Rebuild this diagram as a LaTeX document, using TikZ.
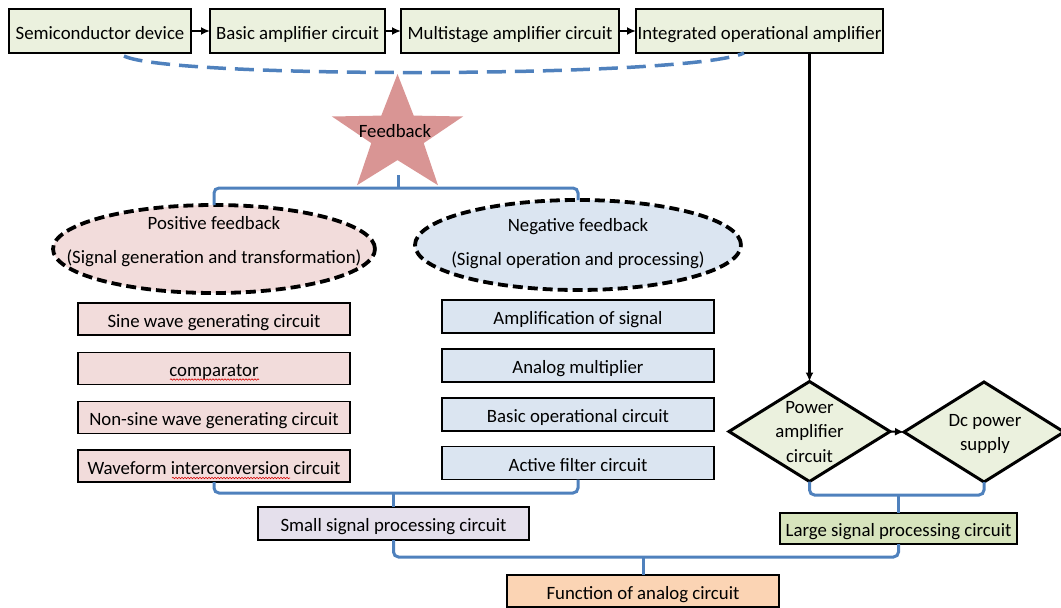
\documentclass[tikz,border=0pt]{standalone}
\usepackage{fontspec}
\setmainfont{Carlito}
\usetikzlibrary{shapes.geometric,arrows.meta,decorations.pathmorphing}
\definecolor{topfill}{HTML}{EBF1DE}
\definecolor{pinkfill}{HTML}{F2DCDB}
\definecolor{bluefill}{HTML}{DBE5F1}
\definecolor{lavfill}{HTML}{E5E0EC}
\definecolor{largefill}{HTML}{D7E4BD}
\definecolor{peachfill}{HTML}{FBD4B4}
\definecolor{starfill}{HTML}{D99594}
\definecolor{lineblue}{HTML}{4F81BD}
\begin{document}
\begin{tikzpicture}[x=1pt,y=-1pt,
  every node/.style={font=\fontsize{18.8}{22}\selectfont, inner sep=0pt, outer sep=0pt},
  box/.style={draw=black, line width=1.6pt, minimum height=#1, text height=17.6pt, text depth=1pt},
  topbox/.style={box=44, fill=topfill},
  pbox/.style={box=32, fill=pinkfill, minimum width=272},
  nbox/.style={box=33, fill=bluefill, minimum width=272},
  oval/.style={draw=black, line width=3.8pt, dash pattern=on 10pt off 5pt, ellipse},
  dia/.style={draw=black, line width=3pt, diamond, fill=topfill, minimum width=161, minimum height=100},
  br/.style={draw=lineblue, line width=3pt, rounded corners=5pt},
  arr/.style={draw=black, line width=2.5pt, -{Latex[length=9pt,width=8pt]}},
  squig/.style={draw=red!85!black, line width=0.6pt, decorate, decoration={snake, amplitude=0.7pt, segment length=3pt}},
  lines2/.style={align=center, font=\fontsize{18.8}{34}\selectfont},
  lines3/.style={align=center, font=\fontsize{18.8}{24.5}\selectfont}
]
\useasboundingbox (0,0) rectangle (1061,608);

% top row
\node[topbox, minimum width=182] (b1) at (100,31) {Semiconductor device};
\node[topbox, minimum width=175] (b2) at (297.5,31) {Basic amplifier circuit};
\node[topbox, minimum width=218] (b3) at (510,31) {Multistage amplifier circuit};
\node[topbox, minimum width=247] (b4) at (759.5,31) {Integrated operational amplifier};
\draw[arr] (b1.east) -- (b2.west);
\draw[arr] (b2.east) -- (b3.west);
\draw[arr] (b3.east) -- (b4.west);

% dashed feedback curve
\coordinate (d1) at (124,56);
\coordinate (d2) at (744,53);
\draw[draw=lineblue, line width=3.5pt, dash pattern=on 19pt off 9pt]
  (d1) .. controls (170,79) and (690,78) .. (d2);

% star
\node[star, star points=5, star point ratio=2.5, fill=starfill, minimum size=123, xscale=1.12] (star) at (397.5,135.5) {};
\node (fbtext) at (395,131) {Feedback};

% ellipses
\node[oval, fill=pinkfill, minimum width=322, minimum height=88] (pos) at (214,249) {};
\node[lines2] (postext) at (214,242) {Positive feedback\\(Signal generation and transformation)};
\node[oval, fill=bluefill, minimum width=326, minimum height=90] (neg) at (578,245) {};
\node[lines2] (negtext) at (578,243.5) {Negative feedback\\(Signal operation and processing)};

\coordinate (fbstub) at (398,175);
\coordinate (j1) at (398,188);
\draw[br] (pos.north) |- (j1) -| (neg.north);
\draw[br] (fbstub) -- (j1);

% left boxes
\node[pbox] (sine) at (214,319) {Sine wave generating circuit};
\node[pbox] (comp) at (214,368.5) {comparator};
\node[pbox] (nonsine) at (214,417.5) {Non-sine wave generating circuit};
\node[pbox] (wave) at (214,466) {Waveform interconversion circuit};
\draw[squig] (170,379.5) -- (259,379.5);
\draw[squig] (172,478) -- (290,478);

% right boxes
\node[nbox] (ampl) at (578,316.5) {Amplification of signal};
\node[nbox] (mult) at (578,365.5) {Analog multiplier};
\node[nbox] (basic) at (578,414.5) {Basic operational circuit};
\node[nbox] (active) at (578,463) {Active filter circuit};

% small signal
\node[box=33, fill=lavfill, minimum width=271] (small) at (393.5,523.5) {Small signal processing circuit};
\coordinate (j2) at (393.5,493);
\draw[br] (wave.south) |- (j2) -| (active.south);
\draw[br] (j2) -- (small.north);

% diamonds
\node[dia] (pow) at (809.5,431.5) {};
\node[lines3] (powtext) at (809.5,432) {Power\\amplifier\\circuit};
\node[dia, minimum width=160] (dc) at (984,432) {};
\node[lines3] (dctext) at (985,434) {Dc power\\supply};
\draw[arr, line width=3pt] (b4.south -| pow.north) -- (pow.north);
\draw[arr, line width=2pt] (pow.east) -- (dc.west);

% large signal
\node[box=31, fill=largefill, minimum width=237] (large) at (898.5,528.5) {Large signal processing circuit};
\coordinate (j3) at (898.5,495);
\draw[br] (pow.south) |- (j3) -| (dc.south);
\draw[br] (j3) -- (large.north);

% function
\node[box=32, fill=peachfill, minimum width=272] (func) at (643,591) {Function of analog circuit};
\coordinate (j4) at (643,557);
\draw[br] (small.south) |- (j4) -| (large.south);
\draw[br] (j4) -- (func.north);
\end{tikzpicture}
\end{document}
